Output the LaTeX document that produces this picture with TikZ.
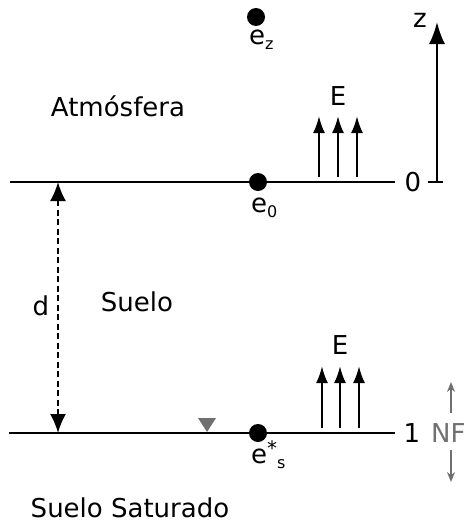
\documentclass[tikz,border=0pt]{standalone}
\usepackage{fontspec}
\setmainfont{DejaVu Sans}
\usetikzlibrary{arrows.meta}
\definecolor{nfgray}{HTML}{707070}
\newcommand{\sbs}[1]{\raisebox{-5pt}{\fontsize{16}{18}\selectfont #1}}
\newcommand{\sps}[1]{\raisebox{8pt}{\fontsize{20}{22}\selectfont #1}}
\begin{document}
\begin{tikzpicture}[x=1pt,y=-1pt,
  lbl/.style={font=\fontsize{26}{30}\selectfont, inner sep=0pt},
  dot/.style={circle, fill=black, minimum size=18pt, inner sep=0pt},
  level/.style={line width=2.2pt},
  flux/.style={line width=2.2pt, -{Latex[length=17pt,width=12pt]}},
  nfarrow/.style={line width=1.5pt, nfgray, -{Stealth[length=10pt,width=8pt]}}]
\useasboundingbox (0,0) rectangle (466,525);
% levels
\coordinate (l0a) at (10,182);
\coordinate (l0b) at (395,182);
\coordinate (l1a) at (9,433);
\coordinate (l1b) at (395,433);
\draw[level] (l0a) -- (l0b);
\draw[level] (l1a) -- (l1b);
% region labels
\node[lbl] (atm) at (118,106) {Atmósfera};
\node[lbl] (suelo) at (137,302) {Suelo};
\node[lbl] (sat) at (130,508) {Suelo Saturado};
% d
\coordinate (dtop) at (58,182);
\coordinate (dbot) at (58,433);
\draw[line width=2pt, dash pattern=on 6pt off 3.5pt, {Latex[length=19pt,width=16pt]}-{Latex[length=19pt,width=16pt]}] (dtop) -- (dbot);
\node[lbl] (d) at (41,306) {d};
% dots
\node[dot] (ez) at (256,17) {};
\node[dot] (e0) at (258,182) {};
\node[dot] (es) at (258,433) {};
\node[lbl, anchor=base west] (ezl) at (249,44) {e\sbs{z}};
\node[lbl, anchor=base west] (e0l) at (251,212) {e\sbs{0}};
\node[lbl, anchor=base west] (esl) at (251,463) {e\sps{*}\sbs{s}};
% E fluxes top
\node[lbl] (Et) at (338,96) {E};
\coordinate (t1a) at (319,177); \coordinate (t1b) at (319,116);
\coordinate (t2a) at (338,177); \coordinate (t2b) at (338,116);
\coordinate (t3a) at (357,177); \coordinate (t3b) at (357,116);
\draw[flux] (t1a) -- (t1b);
\draw[flux] (t2a) -- (t2b);
\draw[flux] (t3a) -- (t3b);
% E fluxes bottom
\node[lbl] (Eb) at (340,345) {E};
\coordinate (b1a) at (322,428); \coordinate (b1b) at (322,366);
\coordinate (b2a) at (340,428); \coordinate (b2b) at (340,366);
\coordinate (b3a) at (359,428); \coordinate (b3b) at (359,366);
\draw[flux] (b1a) -- (b1b);
\draw[flux] (b2a) -- (b2b);
\draw[flux] (b3a) -- (b3b);
% z axis
\node[lbl] (zero) at (413,182) {0};
\node[lbl] (one) at (412,433) {1};
\coordinate (tickl) at (428,182);
\coordinate (tickr) at (443,182);
\coordinate (zbase) at (437,182);
\coordinate (ztip) at (437,22);
\draw[line width=2pt] (tickl) -- (tickr);
\draw[line width=2pt, -{Latex[length=22pt,width=16pt]}] (zbase) -- (ztip);
\node[lbl] (z) at (420,20) {z};
% water table
\fill[nfgray] (198,418) -- (216,418) -- (207,432) -- cycle;
\node[lbl, text=nfgray, anchor=west] (nf) at (431,433) {NF};
\coordinate (nfu0) at (451,413); \coordinate (nfu1) at (451,382);
\coordinate (nfd0) at (451,450); \coordinate (nfd1) at (451,482);
\draw[nfarrow] (nfu0) -- (nfu1);
\draw[nfarrow] (nfd0) -- (nfd1);
\end{tikzpicture}
\end{document}
